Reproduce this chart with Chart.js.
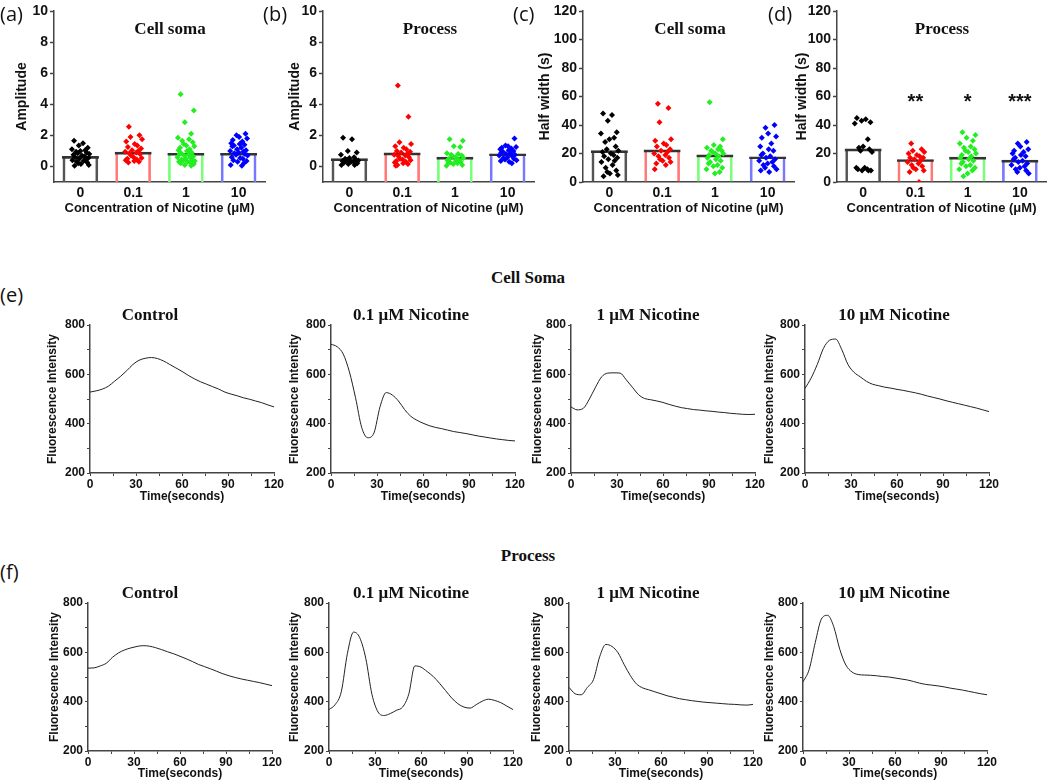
<!DOCTYPE html>
<html>
<head>
<meta charset="utf-8">
<script src="https://cdn.jsdelivr.net/npm/chart.js@4.4.1/dist/chart.umd.min.js"></script>
<style>
  html, body { margin: 0; padding: 0; background: #fff; }
  #fig { position: relative; width: 1050px; height: 782px; overflow: hidden; }
  #fig canvas { position: absolute; }
  .lbl { position: absolute; font-family: "Open Sans", "Liberation Sans", sans-serif; font-size: 20px; color: #111; line-height: 1; transform: translateY(-50%); white-space: nowrap; }
  .ttl { position: absolute; font-family: "Liberation Serif", "Times New Roman", serif; font-weight: bold; font-size: 17px; color: #111; line-height: 1; white-space: nowrap; transform: translate(-50%, -50%); }
</style>
</head>
<body>
<div id="fig"></div>
<script>
// =======================
// Data
// =======================
const groups = ['0', '0.1', '1', '10'];

// (a) amplitude, cell soma
const ampSomaMean = [0.65, 0.92, 0.85, 0.85];
const ampSomaPts = [
  [1.65, 1.5, 1.35, 1.2, 1.1, 1.05, 1.0, 0.95, 0.9, 0.85, 0.8, 0.75, 0.7, 0.65, 0.6, 0.55, 0.5, 0.45, 0.4, 0.35, 0.3, 0.25, 0.2, 0.15, 0.1, 0.05],
  [2.55, 2.0, 1.9, 1.75, 1.6, 1.45, 1.35, 1.25, 1.15, 1.05, 1.0, 0.95, 0.9, 0.85, 0.8, 0.7, 0.6, 0.55, 0.5, 0.45, 0.4, 0.35, 0.3, 0.25],
  [4.65, 3.6, 2.85, 2.1, 1.85, 1.75, 1.65, 1.55, 1.45, 1.35, 1.3, 1.2, 1.1, 1.05, 1.0, 0.9, 0.85, 0.8, 0.75, 0.7, 0.65, 0.6, 0.55, 0.5, 0.45, 0.4, 0.4, 0.35, 0.3, 0.3, 0.25, 0.2, 0.15, 0.1, 0.05],
  [2.1, 2.0, 1.9, 1.8, 1.7, 1.6, 1.5, 1.45, 1.4, 1.35, 1.3, 1.2, 1.1, 1.05, 1.0, 0.95, 0.9, 0.85, 0.8, 0.75, 0.7, 0.6, 0.55, 0.5, 0.4, 0.35, 0.3, 0.2, 0.1, 0.05]
];

// (b) amplitude, process
const ampProcMean = [0.5, 0.87, 0.6, 0.82];
const ampProcPts = [
  [1.85, 1.75, 1.0, 0.9, 0.75, 0.6, 0.55, 0.5, 0.45, 0.4, 0.38, 0.35, 0.3, 0.3, 0.25, 0.2, 0.15, 0.1, 0.1],
  [5.2, 3.2, 1.55, 1.45, 1.3, 1.2, 1.1, 1.0, 0.95, 0.9, 0.8, 0.75, 0.7, 0.65, 0.6, 0.5, 0.45, 0.4, 0.35, 0.3, 0.25, 0.2, 0.15, 0.1, 0.05],
  [1.75, 1.65, 1.3, 1.25, 0.85, 0.8, 0.75, 0.7, 0.65, 0.6, 0.55, 0.5, 0.45, 0.4, 0.35, 0.3, 0.25, 0.25, 0.2, 0.15, 0.1, 0.05],
  [1.8, 1.35, 1.3, 1.25, 1.2, 1.15, 1.1, 1.05, 1.0, 0.95, 0.9, 0.85, 0.8, 0.75, 0.7, 0.65, 0.6, 0.55, 0.5, 0.45, 0.4, 0.35, 0.3, 0.2]
];

// (c) half width, cell soma
const hwSomaMean = [22, 22.5, 19, 17.7];
const hwSomaPts = [
  [48, 47, 43, 35, 34, 31, 30, 28, 25, 23, 22, 21, 20, 19, 18, 17, 16, 15, 14, 12, 10, 8, 7, 6, 5, 4],
  [55, 52, 42, 30, 29, 27, 26, 25, 23, 22, 21, 20, 19, 18, 17, 16, 15, 14, 13, 12, 9],
  [56, 30, 26, 25, 24, 23, 22, 22, 21, 20, 20, 19, 18, 17, 16, 15, 14, 13, 12, 11, 10, 9, 7, 6],
  [40, 38, 34, 32, 31, 27, 25, 23, 22, 20, 19, 18, 17, 16, 15, 14, 13, 12, 11, 10, 9, 8, 7]
];

// (d) half width, process
const hwProcMean = [23.2, 15.8, 17.5, 15.4];
const hwProcPts = [
  [45, 44, 43, 42, 41, 30, 25, 24, 23, 22, 21, 10, 10, 9, 9, 8, 8, 8],
  [27, 23, 22, 21, 20, 19, 18, 17, 17, 16, 15, 14, 13, 12, 11, 10, 9, 8, 7, 0],
  [35, 33, 31, 29, 27, 25, 24, 23, 22, 21, 20, 19, 18, 17, 16, 15, 14, 13, 12, 11, 10, 9, 8, 6, 4],
  [28, 27, 25, 23, 22, 21, 20, 19, 18, 17, 16, 15, 14, 13, 12, 11, 10, 9, 8, 7, 6]
];
const hwProcSig = ['', '**', '*', '***'];

// traces (e) cell soma, (f) process
const time = [0, 4, 8, 12, 16, 20, 24, 28, 32, 36, 40, 44, 48, 52, 56, 60, 64, 68, 72, 76, 80, 84, 88, 92, 96, 100, 104, 108, 112, 116, 120];
const somaControl = [528, 533, 540, 552, 572, 592, 615, 640, 657, 665, 668, 664, 654, 640, 626, 612, 596, 582, 570, 560, 550, 540, 528, 520, 513, 505, 499, 492, 485, 476, 468];
const soma01 = [722, 712, 682, 610, 505, 385, 343, 362, 469, 526, 516, 492, 457, 430, 414, 402, 392, 385, 380, 374, 368, 364, 360, 355, 350, 346, 342, 338, 335, 332, 330];
const soma1 = [468, 456, 462, 500, 548, 590, 605, 606, 605, 578, 548, 518, 502, 497, 492, 486, 478, 471, 465, 461, 457, 455, 452, 450, 447, 445, 442, 440, 438, 437, 438];
const soma10 = [543, 585, 640, 705, 738, 743, 700, 640, 608, 590, 572, 560, 554, 548, 544, 539, 535, 530, 525, 519, 512, 506, 500, 493, 487, 481, 475, 469, 463, 456, 449];
const procControl = [536, 537, 545, 556, 580, 598, 610, 618, 624, 627, 625, 619, 611, 602, 594, 584, 574, 563, 551, 542, 533, 523, 513, 505, 498, 492, 487, 482, 477, 471, 465];
const proc01 = [368, 388, 440, 595, 682, 660, 575, 430, 358, 344, 352, 365, 378, 430, 545, 540, 522, 502, 475, 445, 415, 392, 378, 374, 388, 402, 410, 405, 396, 382, 368];
const proc1 = [458, 432, 428, 458, 490, 582, 632, 624, 598, 550, 506, 472, 456, 448, 440, 432, 424, 418, 412, 408, 404, 401, 398, 396, 394, 392, 390, 389, 387, 386, 389];
const proc10 = [480, 530, 640, 735, 750, 705, 612, 548, 520, 510, 508, 507, 505, 502, 500, 496, 492, 488, 482, 475, 470, 467, 464, 460, 455, 451, 447, 442, 437, 432, 428];

// =======================
// Styles
// =======================
const FONT = '"Liberation Sans", Arial, sans-serif';
const AXIS = '#444';
const TXT = '#111';
const pointColors = ['#000000', '#ff0000', '#22ee22', '#0000ff'];
const sideColors = ['#555555', '#ff7777', '#77ff77', '#7777ff'];
// horizontal scatter offsets (in category units) for the dots
const JITTER = [-0.12, 0.05, -0.03, 0.14, -0.16, 0.09, 0.0, -0.08, 0.12, -0.05, 0.17, -0.13, 0.03, 0.08, -0.1, 0.15, -0.02, 0.1, -0.15, 0.06, -0.07, 0.13, -0.04, 0.01, 0.16, -0.11, 0.07, -0.14, 0.02, 0.11, -0.09];

Chart.defaults.font.family = FONT;
Chart.defaults.color = TXT;

const fig = document.getElementById('fig');

function addCanvas(left, top, width, height) {
    const c = document.createElement('canvas');
    c.width = width;
    c.height = height;
    c.style.left = left + 'px';
    c.style.top = top + 'px';
    c.style.width = width + 'px';
    c.style.height = height + 'px';
    fig.appendChild(c);
    return c;
}

function addText(cls, text, x, y, size) {
    const d = document.createElement('div');
    d.className = cls;
    d.textContent = text;
    d.style.left = x + 'px';
    d.style.top = y + 'px';
    if (size) d.style.fontSize = size + 'px';
    fig.appendChild(d);
}

// stars above bars
const sigPlugin = {
    id: 'sig',
    afterDatasetsDraw(chart, args, opts) {
        if (!opts.marks) return;
        const { ctx, scales: { x, y } } = chart;
        ctx.save();
        ctx.font = 'bold 20px ' + FONT;
        ctx.fillStyle = TXT;
        ctx.textAlign = 'center';
        ctx.textBaseline = 'middle';
        opts.marks.forEach((m, i) => {
            if (m) ctx.fillText(m, x.getPixelForValue(i), y.getPixelForValue(opts.at));
        });
        ctx.restore();
    }
};

// =======================
// Bar + dot panels
// =======================
function barPanel(p) {
    const width = p.chartRight + 2 - p.left;
    const canvas = addCanvas(p.left, 0, width, 216);
    const yW = p.chartLeft - p.left;
    const xH = 216 - 182;
    const tickFont = { family: FONT, size: 14, weight: 'bold' };
    const titleFont = { family: FONT, size: 14, weight: 'bold' };

    const datasets = p.pts.map((vals, g) => ({
        type: 'scatter',
        data: vals.map((v, i) => ({ x: g + JITTER[(i + g * 7) % JITTER.length], y: v })),
        pointStyle: 'rectRot',
        radius: 3,
        backgroundColor: pointColors[g],
        borderColor: pointColors[g],
        borderWidth: 0,
        order: 0
    }));
    const barData = p.means.map((m, i) => ({ x: i, y: m }));
    datasets.push({
        type: 'bar',
        data: barData,
        base: p.yMin,
        backgroundColor: 'rgba(0,0,0,0)',
        borderColor: sideColors,
        borderWidth: { left: 2, right: 2, top: 0, bottom: 0 },
        borderSkipped: false,
        barThickness: 35,
        grouped: false,
        order: 2
    });
    datasets.push({
        type: 'bar',
        data: barData,
        base: p.yMin,
        backgroundColor: 'rgba(0,0,0,0)',
        borderColor: '#333',
        borderWidth: { left: 0, right: 0, top: 2, bottom: 0 },
        borderSkipped: false,
        barThickness: 37,
        grouped: false,
        order: 1
    });

    new Chart(canvas, {
        type: 'bar',
        data: { datasets },
        plugins: [sigPlugin],
        options: {
            responsive: false,
            animation: false,
            events: [],
            layout: { padding: { left: 0, top: 11, right: 2, bottom: 0 } },
            plugins: {
                legend: { display: false },
                tooltip: { enabled: false },
                sig: { marks: p.sig, at: 56 }
            },
            scales: {
                x: {
                    type: 'linear',
                    min: -0.5,
                    max: 3.5,
                    offset: false,
                    afterBuildTicks: s => { s.ticks = groups.map((g, i) => ({ value: i })); },
                    afterFit: s => { s.height = xH; },
                    ticks: { callback: v => groups[v], font: tickFont, color: TXT, padding: 3, maxRotation: 0, autoSkip: false },
                    grid: { display: true, drawOnChartArea: false, drawTicks: false, offset: false },
                    border: { display: true, color: AXIS, width: 1.5 },
                    title: { display: true, text: 'Concentration of Nicotine (μM)', font: { family: FONT, size: 13, weight: 'bold' }, color: TXT, padding: { top: 0, bottom: 0 } }
                },
                y: {
                    min: p.yMin,
                    max: p.yMax,
                    afterBuildTicks: s => { s.ticks = p.yTicks.map(v => ({ value: v })); },
                    afterFit: s => { s.width = yW; },
                    ticks: { callback: v => (v % p.yLabelStep === 0 ? v : ''), font: tickFont, color: TXT, padding: 2 },
                    grid: { drawOnChartArea: false, drawTicks: true, tickLength: 4, tickColor: AXIS, tickWidth: 1.5 },
                    border: { display: true, color: AXIS, width: 1.5 },
                    title: { display: true, text: p.yTitle, font: titleFont, color: TXT, padding: { top: p.titleX - p.left - 8.4, bottom: 0 } }
                }
            }
        }
    });
}

const ampTicks = [0, 2, 4, 6, 8, 10];
const hwTicks = [0, 10, 20, 30, 40, 50, 60, 70, 80, 90, 100, 110, 120];

barPanel({ left: 0, chartLeft: 54, chartRight: 267, titleX: 22, yMin: -1, yMax: 10, yTicks: ampTicks, yLabelStep: 2, yTitle: 'Amplitude', means: ampSomaMean, pts: ampSomaPts });
barPanel({ left: 270, chartLeft: 323, chartRight: 536, titleX: 295, yMin: -1, yMax: 10, yTicks: ampTicks, yLabelStep: 2, yTitle: 'Amplitude', means: ampProcMean, pts: ampProcPts });
barPanel({ left: 536, chartLeft: 583, chartRight: 796, titleX: 545, yMin: 0, yMax: 120, yTicks: hwTicks, yLabelStep: 20, yTitle: 'Half width (s)', means: hwSomaMean, pts: hwSomaPts });
barPanel({ left: 792, chartLeft: 837, chartRight: 1048, titleX: 802, yMin: 0, yMax: 120, yTicks: hwTicks, yLabelStep: 20, yTitle: 'Half width (s)', means: hwProcMean, pts: hwProcPts, sig: hwProcSig });

// =======================
// Trace panels
// =======================
function tracePanel(p) {
    const width = p.chartLeft + 184 + 14 - p.left;
    const canvas = addCanvas(p.left, p.top, width, p.height);
    const yW = p.chartLeft - p.left;
    const xH = p.height - 10 - 148;
    const tickFont = { family: FONT, size: 12, weight: 'bold' };
    const titleFont = { family: FONT, size: 12, weight: 'bold' };

    new Chart(canvas, {
        type: 'line',
        data: {
            datasets: [{
                data: time.map((t, i) => ({ x: t, y: p.values[i] })),
                borderColor: '#222',
                borderWidth: 1,
                pointRadius: 0,
                fill: false,
                cubicInterpolationMode: 'monotone'
            }]
        },
        options: {
            responsive: false,
            animation: false,
            events: [],
            layout: { padding: { left: 0, top: 10, right: 14, bottom: 0 } },
            plugins: { legend: { display: false }, tooltip: { enabled: false } },
            scales: {
                x: {
                    type: 'linear',
                    min: 0,
                    max: 120,
                    afterBuildTicks: s => { s.ticks = [0, 15, 30, 45, 60, 75, 90, 105, 120].map(v => ({ value: v })); },
                    afterFit: s => { s.height = xH; },
                    ticks: { callback: v => (v % 30 === 0 ? v : ''), font: tickFont, color: TXT, padding: 1, maxRotation: 0, autoSkip: false },
                    grid: { drawOnChartArea: false, drawTicks: true, tickLength: 3, tickColor: AXIS, tickWidth: 1 },
                    border: { display: true, color: AXIS, width: 1.5 },
                    title: { display: true, text: 'Time(seconds)', font: titleFont, color: TXT, padding: { top: 0, bottom: 0 } }
                },
                y: {
                    min: 200,
                    max: 800,
                    afterBuildTicks: s => { s.ticks = [200, 300, 400, 500, 600, 700, 800].map(v => ({ value: v })); },
                    afterFit: s => { s.width = yW; },
                    ticks: { callback: v => (v % 200 === 0 ? v : ''), font: tickFont, color: TXT, padding: 2 },
                    grid: { drawOnChartArea: false, drawTicks: true, tickLength: 3, tickColor: AXIS, tickWidth: 1 },
                    border: { display: true, color: AXIS, width: 1.5 },
                    title: { display: true, text: 'Fluorescence Intensity', font: titleFont, color: TXT, padding: { top: p.titleX - p.left - 7.2, bottom: 0 } }
                }
            }
        }
    });
}

const traceTitles = ['Control', '0.1 μM Nicotine', '1 μM Nicotine', '10 μM Nicotine'];
const traceTitleX = [150, 411, 648, 894];

// row (e)
tracePanel({ left: 40, top: 315, height: 189, chartLeft: 90, titleX: 53, values: somaControl });
tracePanel({ left: 283, top: 315, height: 189, chartLeft: 331, titleX: 295, values: soma01 });
tracePanel({ left: 527, top: 315, height: 189, chartLeft: 571, titleX: 538, values: soma1 });
tracePanel({ left: 760, top: 315, height: 189, chartLeft: 805, titleX: 770, values: soma10 });

// row (f)
tracePanel({ left: 40, top: 593, height: 188, chartLeft: 88, titleX: 55, values: procControl });
tracePanel({ left: 283, top: 593, height: 188, chartLeft: 329, titleX: 295, values: proc01 });
tracePanel({ left: 525, top: 593, height: 188, chartLeft: 569, titleX: 537, values: proc1 });
tracePanel({ left: 758, top: 593, height: 188, chartLeft: 803, titleX: 770, values: proc10 });

// =======================
// Text labels
// =======================
addText('lbl', '(a)', 0, 14);
addText('lbl', '(b)', 263, 14);
addText('lbl', '(c)', 513, 14);
addText('lbl', '(d)', 768, 14);
addText('ttl', 'Cell soma', 170, 28);
addText('ttl', 'Process', 430, 28);
addText('ttl', 'Cell soma', 690, 28);
addText('ttl', 'Process', 942, 28);

addText('ttl', 'Cell Soma', 528, 277);
addText('lbl', '(e)', 0, 295);
addText('ttl', 'Process', 528, 555);
addText('lbl', '(f)', 0, 572);
traceTitles.forEach((t, i) => {
    addText('ttl', t, traceTitleX[i], 314);
    addText('ttl', t, traceTitleX[i], 592);
});
</script>
</body>
</html>
